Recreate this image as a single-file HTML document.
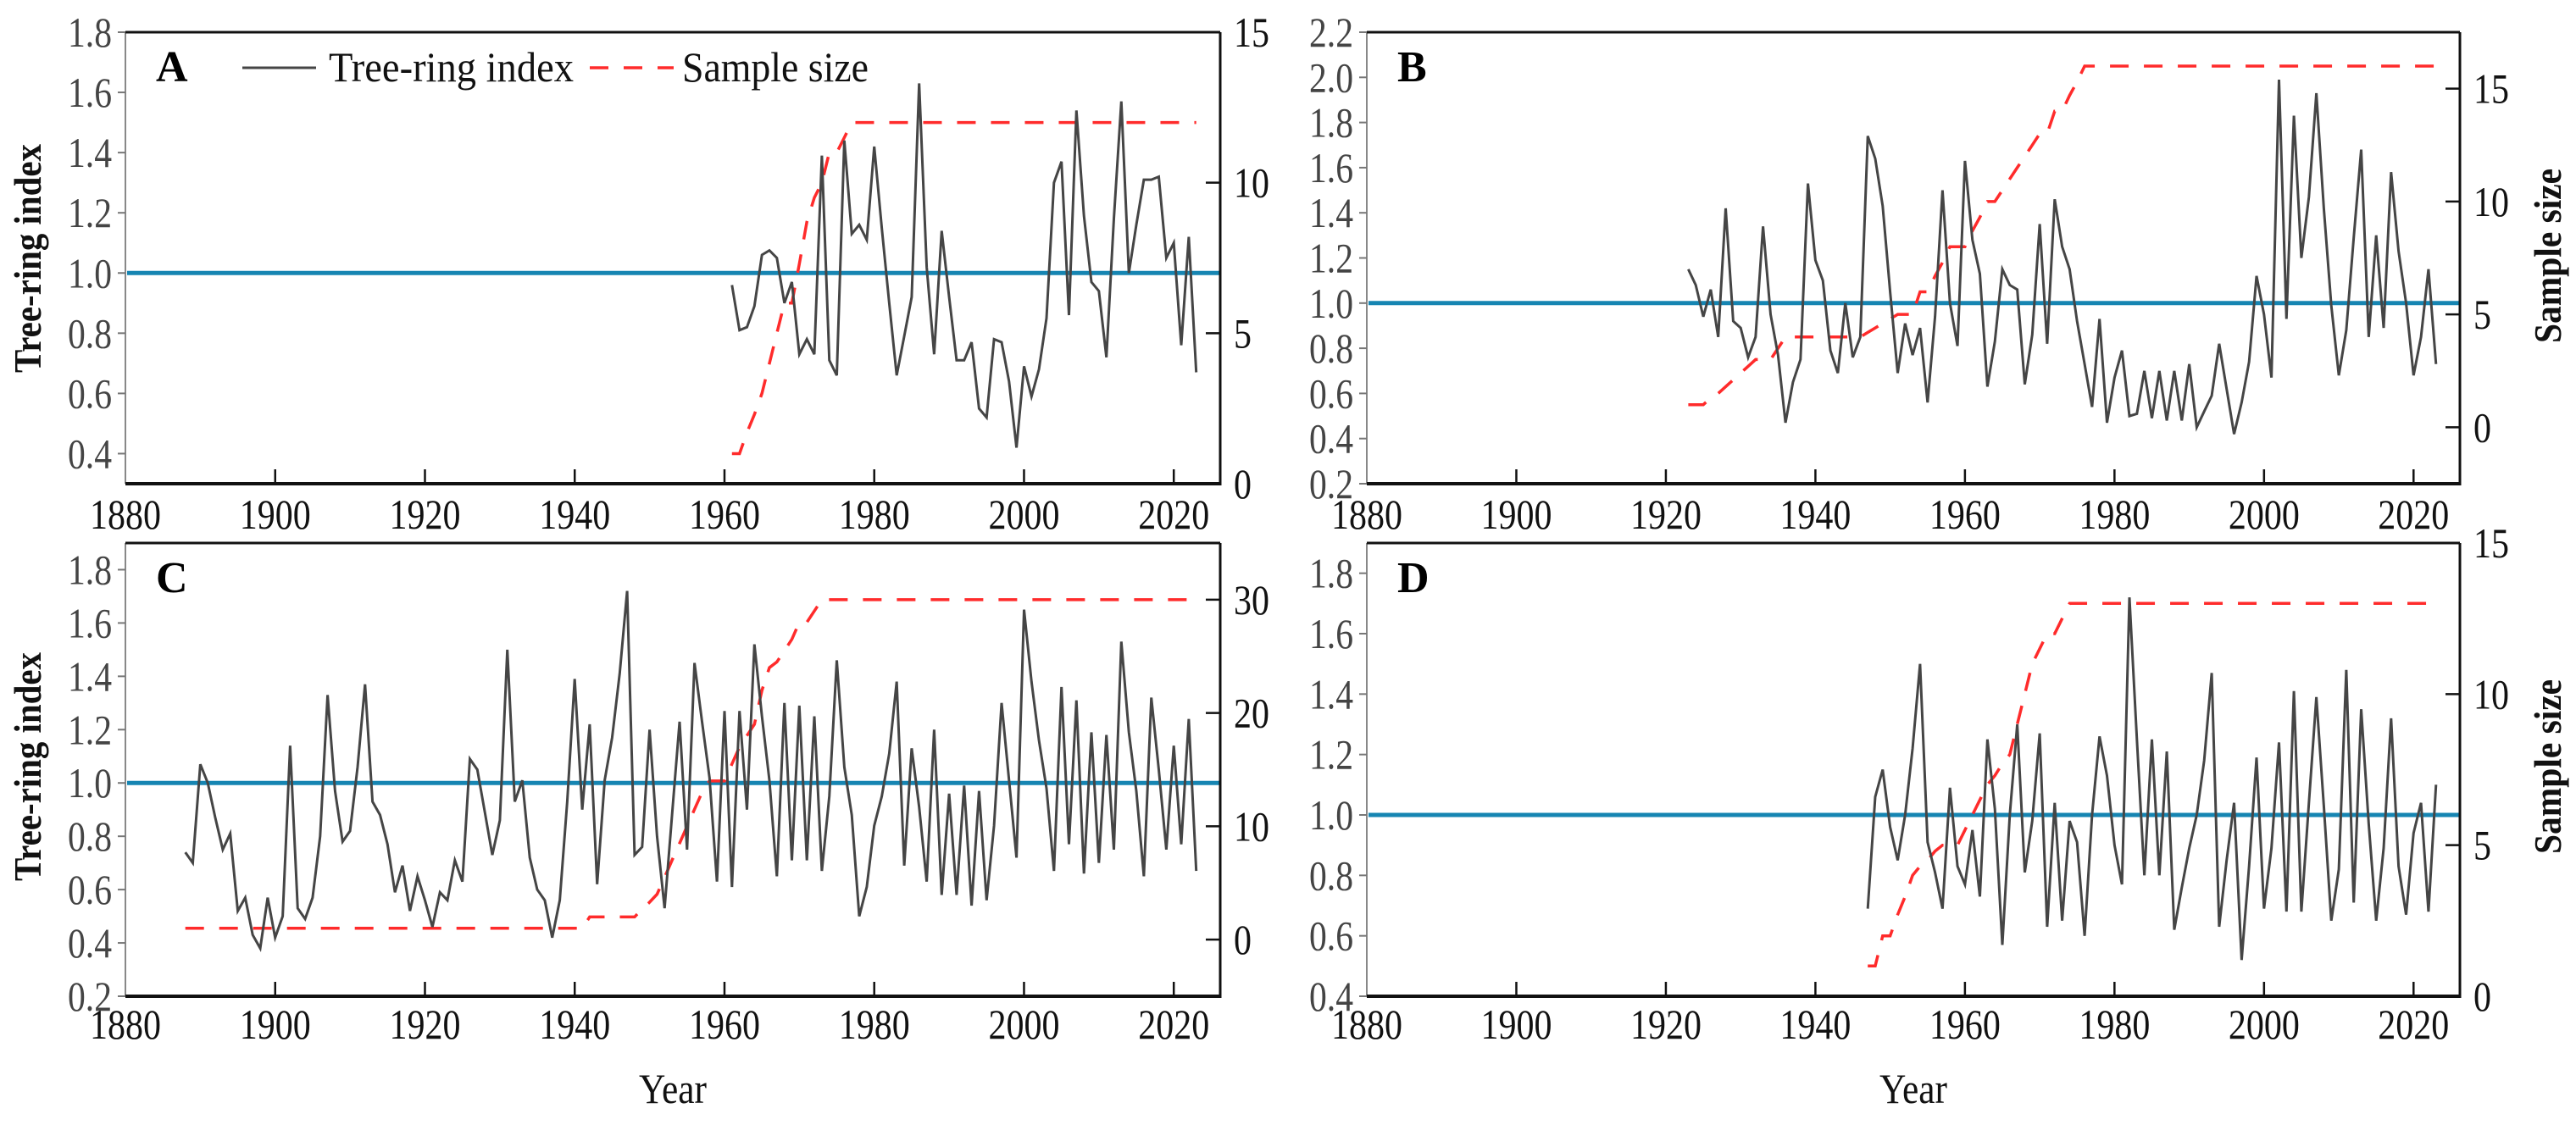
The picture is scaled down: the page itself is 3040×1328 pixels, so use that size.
<!DOCTYPE html>
<html><head><meta charset="utf-8">
<style>
html,body{margin:0;padding:0;background:#fff;}
svg{display:block;font-family:"Liberation Serif","DejaVu Serif",serif;}
text{font-family:"Liberation Serif","DejaVu Serif",serif;}
</style></head>
<body>
<svg id="chart" width="3040" height="1328" viewBox="0 0 3040 1328" xmlns="http://www.w3.org/2000/svg" font-family="Liberation Serif, serif"></svg>
<script>
// ---------- Data ----------
const xTicks = [1880, 1900, 1920, 1940, 1960, 1980, 2000, 2020];

const startA = 1961;
const indexA = [0.96,0.81,0.82,0.89,1.06,1.075,1.05,0.90,0.97,0.73,
0.78,0.73,1.39,0.71,0.66,1.44,1.13,1.16,1.11,1.42,
1.15,0.90,0.66,0.79,0.92,1.63,1.02,0.73,1.14,0.92,
0.71,0.71,0.77,0.55,0.52,0.78,0.77,0.64,0.42,0.69,
0.59,0.68,0.85,1.30,1.37,0.86,1.54,1.19,0.97,0.94,
0.72,1.18,1.57,1.00,1.16,1.31,1.31,1.32,1.05,1.10,
0.76,1.12,0.67];
const sampleA = [1,1,1.7,2.3,3,4,5,6,6,7.3,
8.7,9.5,10,11,11,11.5,12,12,12,12,
12,12,12,12,12,12,12,12,12,12,
12,12,12,12,12,12,12,12,12,12,
12,12,12,12,12,12,12,12,12,12,
12,12,12,12,12,12,12,12,12,12,
12,12,12];
const leftTicksA = [0.4,0.6,0.8,1.0,1.2,1.4,1.6,1.8];
const rightTicksA = [0,5,10,15];

const startB = 1923;
const indexB = [1.15,1.08,0.94,1.06,0.85,1.42,0.92,0.89,0.76,0.85,
1.34,0.95,0.77,0.47,0.65,0.75,1.53,1.19,1.10,0.79,
0.69,1.00,0.76,0.85,1.74,1.64,1.43,1.05,0.69,0.91,
0.77,0.89,0.56,0.94,1.50,1.00,0.81,1.63,1.28,1.13,
0.63,0.83,1.15,1.08,1.06,0.64,0.86,1.35,0.82,1.46,
1.25,1.15,0.92,0.73,0.54,0.93,0.47,0.67,0.79,0.50,
0.51,0.70,0.49,0.70,0.48,0.70,0.48,0.73,0.45,0.52,
0.59,0.82,0.62,0.42,0.56,0.74,1.12,0.95,0.67,1.99,
0.93,1.83,1.20,1.47,1.93,1.42,0.99,0.68,0.88,1.29,
1.68,0.85,1.30,0.89,1.58,1.23,1.00,0.68,0.85,1.15,
0.73];
const sampleB = [1,1,1,1.3,1.5,1.8,2.1,2.4,2.7,3,
3,3,3.5,4,4,4,4,4,4,4,
4,4,4,4,4.2,4.4,4.6,4.8,5,5,
5,6,6,6.7,7.3,8,8,8,8.7,9.3,
10,10,10.5,11,11.5,12,12.5,13,13,14,
14,14.7,15.3,16,16,16,16,16,16,16,
16,16,16,16,16,16,16,16,16,16,
16,16,16,16,16,16,16,16,16,16,
16,16,16,16,16,16,16,16,16,16,
16,16,16,16,16,16,16,16,16,16,
16];
const leftTicksB = [0.2,0.4,0.6,0.8,1.0,1.2,1.4,1.6,1.8,2.0,2.2];
const rightTicksB = [0,5,10,15];

const startC = 1888;
const indexC = [0.74,0.70,1.07,1.00,0.87,0.75,0.81,0.52,0.57,0.43,
0.38,0.57,0.42,0.50,1.14,0.53,0.49,0.57,0.80,1.33,
0.97,0.78,0.82,1.06,1.37,0.93,0.88,0.77,0.59,0.69,
0.52,0.65,0.56,0.46,0.59,0.56,0.71,0.63,1.09,1.05,
0.89,0.73,0.86,1.50,0.93,1.01,0.72,0.60,0.56,0.42,
0.56,0.93,1.39,0.90,1.22,0.62,1.01,1.17,1.41,1.72,
0.73,0.76,1.20,0.80,0.53,0.88,1.23,0.75,1.45,1.23,
1.02,0.63,1.27,0.61,1.27,0.90,1.52,1.25,1.01,0.65,
1.30,0.71,1.29,0.71,1.25,0.67,0.95,1.46,1.06,0.88,
0.50,0.61,0.84,0.95,1.11,1.38,0.69,1.13,0.91,0.63,
1.20,0.58,0.96,0.58,0.99,0.54,0.97,0.56,0.84,1.30,
1.01,0.72,1.65,1.38,1.16,0.98,0.67,1.36,0.77,1.31,
0.66,1.19,0.70,1.18,0.75,1.53,1.19,0.97,0.65,1.32,
1.05,0.75,1.14,0.77,1.24,0.67];
const sampleC = [1,1,1,1,1,1,1,1,1,1,
1,1,1,1,1,1,1,1,1,1,
1,1,1,1,1,1,1,1,1,1,
1,1,1,1,1,1,1,1,1,1,
1,1,1,1,1,1,1,1,1,1,
1,1,1,1,2,2,2,2,2,2,
2,2.7,3.3,4,5.5,7,8.5,10,11.5,13,
14,14,14,15.5,17,18,19,22,24,24.5,
25.5,26.5,28,28,29,30,30,30,30,30,
30,30,30,30,30,30,30,30,30,30,
30,30,30,30,30,30,30,30,30,30,
30,30,30,30,30,30,30,30,30,30,
30,30,30,30,30,30,30,30,30,30,
30,30,30,30,30,30];
const leftTicksC = [0.2,0.4,0.6,0.8,1.0,1.2,1.4,1.6,1.8];
const rightTicksC = [0,10,20,30];

const startD = 1947;
const indexD = [0.69,1.06,1.15,0.96,0.85,1.00,1.22,1.50,0.91,0.81,
0.69,1.09,0.83,0.77,0.95,0.73,1.25,1.02,0.57,1.00,
1.30,0.81,0.98,1.27,0.63,1.04,0.65,0.98,0.91,0.60,
1.00,1.26,1.13,0.90,0.77,1.72,1.25,0.80,1.25,0.80,
1.21,0.62,0.76,0.89,1.00,1.18,1.47,0.63,0.85,1.04,
0.52,0.83,1.19,0.69,0.89,1.24,0.68,1.41,0.68,1.04,
1.39,1.03,0.65,0.82,1.48,0.71,1.35,0.97,0.65,0.89,
1.32,0.83,0.67,0.94,1.04,0.68,1.10];
const sampleD = [1,1,2,2,2.7,3.3,4,4.3,4.5,4.8,
5,5,5,5.5,6,6.5,7,7.3,7.7,8,
9,10,11,11.5,12,12,12.5,13,13,13,
13,13,13,13,13,13,13,13,13,13,
13,13,13,13,13,13,13,13,13,13,
13,13,13,13,13,13,13,13,13,13,
13,13,13,13,13,13,13,13,13,13,
13,13,13,13,13,13,13];
const leftTicksD = [0.4,0.6,0.8,1.0,1.2,1.4,1.6,1.8];
const rightTicksD = [0,5,10,15];

// ---------- Drawing ----------
const NS = "http://www.w3.org/2000/svg";
const FF = '"Liberation Serif", "DejaVu Serif", serif';
const svg = document.getElementById('chart');
function mk(tag, attrs, parent) {
  const e = document.createElementNS(NS, tag);
  for (const k in attrs) e.setAttribute(k, attrs[k]);
  (parent || svg).appendChild(e);
  return e;
}

function drawPanel(p) {
  const g = mk('g', {});
  
  
  const xS = y => p.x0 + (y - 1880) / (2026.2 - 1880) * (p.x1 - p.x0);
  const yL = v => p.y1 - (v - p.lmin) / (p.lmax - p.lmin) * (p.y1 - p.y0);
  const yR = v => p.y1 - (v - p.rmin) / (p.rmax - p.rmin) * (p.y1 - p.y0);

  const ref = mk('line', {x1:p.x0+2, x2:p.x1, y1:yL(1.0), y2:yL(1.0), stroke:'#1685b2', 'stroke-width':5}, g);
  
  

  let d = '';
  p.sample.forEach((v,i) => { d += (i?'L':'M') + xS(p.start+i).toFixed(1) + ',' + yR(v).toFixed(1); });
  const ss = mk('path', {d:d, fill:'none', stroke:'#ff2b2b', 'stroke-width':3.5, 'stroke-dasharray':'22 18'}, g);
  
  

  d = '';
  p.index.forEach((v,i) => { d += (i?'L':'M') + xS(p.start+i).toFixed(1) + ',' + yL(v).toFixed(1); });
  const ti = mk('path', {d:d, fill:'none', stroke:'#454545', 'stroke-width':3}, g);
  
  

  const fl = mk('line', {x1:p.x0, x2:p.x0, y1:p.y0, y2:p.y1, stroke:'#888', 'stroke-width':2}, g);
  
  
  const ft = mk('line', {x1:p.x0, x2:p.x1, y1:p.y0, y2:p.y0, stroke:'#111', 'stroke-width':3}, g);
  
  
  const fr = mk('line', {x1:p.x1, x2:p.x1, y1:p.y0, y2:p.y1, stroke:'#111', 'stroke-width':3}, g);
  
  
  const fb = mk('line', {x1:p.x0, x2:p.x1+1.5, y1:p.y1, y2:p.y1, stroke:'#111', 'stroke-width':4}, g);
  
  

  xTicks.forEach(t => {
    const x = xS(t);
    if (t > 1880) {
      const tk = mk('line', {x1:x, x2:x, y1:p.y1, y2:p.y1-17, stroke:'#111', 'stroke-width':2.5}, g);
      
      
    }
    const tl = mk('text', {x:x, y:p.xlabY, 'text-anchor':'middle', 'font-size':50, 'font-family':FF, fill:'#111', textLength:84, lengthAdjust:'spacingAndGlyphs'}, g);
    tl.textContent = t;
    
    
  });
  p.lticks.forEach(t => {
    const y = yL(t);
    const tk = mk('line', {x1:p.x0-9, x2:p.x0, y1:y, y2:y, stroke:'#777', 'stroke-width':2}, g);
    
    
    const tl = mk('text', {x:p.x0-16, y:y+17, 'text-anchor':'end', 'font-size':50, 'font-family':FF, fill:'#444', textLength:52, lengthAdjust:'spacingAndGlyphs'}, g);
    tl.textContent = t.toFixed(1);
    
    
  });
  p.rticks.forEach(t => {
    const y = yR(t);
    const tk = mk('line', {x1:p.x1-17, x2:p.x1, y1:y, y2:y, stroke:'#111', 'stroke-width':2.5}, g);
    
    
    const s = String(t);
    const tl = mk('text', {x:p.x1+16, y:y+17, 'text-anchor':'start', 'font-size':50, 'font-family':FF, fill:'#111', textLength:(s.length>1?42:21), lengthAdjust:'spacingAndGlyphs'}, g);
    tl.textContent = s;
    
    
  });
  const pl = mk('text', {x:p.x0+36, y:p.y0+58, 'font-size':52, 'font-weight':'bold', 'font-family':FF, fill:'#000'}, g);
  pl.textContent = p.letter;
  
  
}

drawPanel({letter:'A', x0:148, x1:1440, y0:38, y1:571, lmin:0.3, lmax:1.8, rmin:0, rmax:15, start:startA, index:indexA, sample:sampleA, lticks:leftTicksA, rticks:rightTicksA, xlabY:624});
drawPanel({letter:'B', x0:1613, x1:2903, y0:38, y1:571, lmin:0.2, lmax:2.2, rmin:-2.5, rmax:17.5, start:startB, index:indexB, sample:sampleB, lticks:leftTicksB, rticks:rightTicksB, xlabY:624});
drawPanel({letter:'C', x0:148, x1:1440, y0:641, y1:1176, lmin:0.2, lmax:1.9, rmin:-5, rmax:35, start:startC, index:indexC, sample:sampleC, lticks:leftTicksC, rticks:rightTicksC, xlabY:1226});
drawPanel({letter:'D', x0:1613, x1:2903, y0:641, y1:1176, lmin:0.4, lmax:1.9, rmin:0, rmax:15, start:startD, index:indexD, sample:sampleD, lticks:leftTicksD, rticks:rightTicksD, xlabY:1226});

(function(){
  function t(txt, attrs, name, parent){
    const e = document.createElementNS(NS,'text');
    for (const k in attrs) e.setAttribute(k, attrs[k]);
    e.setAttribute('font-family', FF);
    e.textContent = txt;
    
    
    (parent || svg).appendChild(e);
    return e;
  }
  t('Tree-ring index', {x:0,y:0,transform:'translate(48,305) rotate(-90)','text-anchor':'middle','font-size':46,'font-weight':'bold',fill:'#111',textLength:270,lengthAdjust:'spacingAndGlyphs'}, 'y-axis-title-a');
  t('Tree-ring index', {x:0,y:0,transform:'translate(48,905) rotate(-90)','text-anchor':'middle','font-size':46,'font-weight':'bold',fill:'#111',textLength:270,lengthAdjust:'spacingAndGlyphs'}, 'y-axis-title-c');
  t('Sample size', {x:0,y:0,transform:'translate(3022,302) rotate(-90)','text-anchor':'middle','font-size':46,'font-weight':'bold',fill:'#111',textLength:206,lengthAdjust:'spacingAndGlyphs'}, 'right-axis-title-b');
  t('Sample size', {x:0,y:0,transform:'translate(3022,905) rotate(-90)','text-anchor':'middle','font-size':46,'font-weight':'bold',fill:'#111',textLength:206,lengthAdjust:'spacingAndGlyphs'}, 'right-axis-title-d');
  t('Year', {x:794,y:1302,'text-anchor':'middle','font-size':50,fill:'#111',textLength:80,lengthAdjust:'spacingAndGlyphs'}, 'x-axis-title-c');
  t('Year', {x:2258,y:1302,'text-anchor':'middle','font-size':50,fill:'#111',textLength:80,lengthAdjust:'spacingAndGlyphs'}, 'x-axis-title-d');

  const lg = document.createElementNS(NS,'g');
  
  
  svg.appendChild(lg);
  const l1 = document.createElementNS(NS,'line');
  l1.setAttribute('x1',286); l1.setAttribute('x2',373); l1.setAttribute('y1',80); l1.setAttribute('y2',80);
  l1.setAttribute('stroke','#454545'); l1.setAttribute('stroke-width',3);
  
  
  lg.appendChild(l1);
  const l2 = document.createElementNS(NS,'line');
  l2.setAttribute('x1',696); l2.setAttribute('x2',795); l2.setAttribute('y1',80); l2.setAttribute('y2',80);
  l2.setAttribute('stroke','#ff2b2b'); l2.setAttribute('stroke-width',3.5); l2.setAttribute('stroke-dasharray','22 18');
  
  
  lg.appendChild(l2);
  t('Tree-ring index', {x:388,y:96,'font-size':50,fill:'#111',textLength:289,lengthAdjust:'spacingAndGlyphs'}, 'legend-entry-tree-ring-index', lg);
  t('Sample size', {x:805,y:96,'font-size':50,fill:'#111',textLength:220,lengthAdjust:'spacingAndGlyphs'}, 'legend-entry-sample-size', lg);
})();
</script>
</body></html>
